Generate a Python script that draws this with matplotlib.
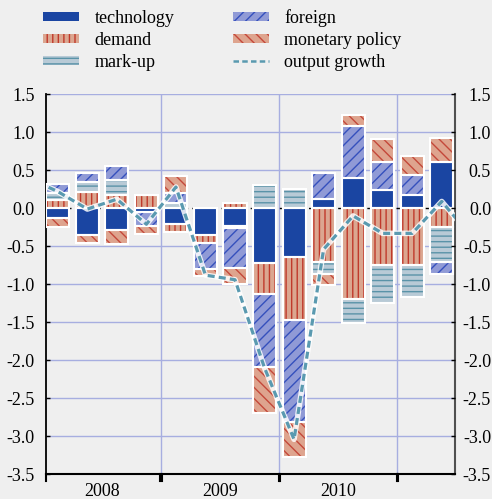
import matplotlib
matplotlib.use("Agg")
import matplotlib.pyplot as plt
import matplotlib.transforms as mtransforms
from matplotlib.patches import Patch
from matplotlib.lines import Line2D
import numpy as np

plt.rcParams['font.family'] = ['Liberation Serif', 'DejaVu Serif']
plt.rcParams['axes.unicode_minus'] = False
plt.rcParams['hatch.linewidth'] = 1.0

# quarters 2008Q1 .. 2011Q2
quarters = np.arange(14)
years = ['2008', '2009', '2010']
year_bounds = [-0.4, 3.5, 7.5, 11.5, 13.45]

technology = [-0.13, -0.35, -0.28, -0.05, -0.21, -0.355, -0.23, -0.72, -0.64, 0.12, 0.40, 0.235, 0.17, 0.61]
demand = [0.11, 0.21, 0.17, 0.18, -0.10, -0.105, 0.07, -0.41, -0.83, -0.70, -1.19, -0.75, -0.74, -0.24]
markup = [0.09, 0.13, 0.20, 0.0, 0.07, 0.0, -0.03, 0.31, 0.26, -0.17, -0.32, -0.49, -0.43, -0.46]
foreign = [0.12, 0.13, 0.19, -0.18, 0.13, -0.34, -0.52, -0.96, -1.34, 0.34, 0.68, 0.38, 0.27, -0.16]
monetary = [-0.12, -0.11, -0.19, -0.11, 0.23, -0.085, -0.22, -0.60, -0.46, -0.14, 0.15, 0.30, 0.25, 0.31]

# output growth, one quarter before and after the bars (clipped by the axes)
growth_x = np.arange(-1, 15)
growth = [0.40, 0.22, -0.01, 0.12, -0.21, 0.28, -0.88, -0.94, -2.1, -3.04, -0.54, -0.10, -0.33, -0.33, 0.09, -0.37]

bg = '#efefef'
grid_col = '#a7aee0'
fs = 13

# name, values, face, hatch colour, hatch
series = [
    ('technology', technology, '#1a45a2', '#1a45a2', None),
    ('demand', demand, '#dba690', '#c0392b', '|||'),
    ('mark-up', markup, '#b8cad6', '#5a93a8', '---'),
    ('foreign', foreign, '#909ad6', '#3550bd', '///'),
    ('monetary policy', monetary, '#dea48e', '#c4483a', '\\\\\\'),
]

fig = plt.figure(figsize=(4.92, 4.99), dpi=100, facecolor=bg)
ax = fig.add_axes([46/492, 1-474.3/499, 409/492, 380/499], facecolor=bg)

ax.set_xlim(-0.4, 13.45)
ax.set_ylim(-3.5, 1.5)

yt = np.arange(-3.5, 1.51, 0.5)
ylabels = ['%.1f' % v for v in yt]
for y in yt:
    if abs(y) > 1e-9:
        ax.axhline(y, color=grid_col, lw=1, zorder=0)
for b in year_bounds[1:-1]:
    ax.axvline(b, color=grid_col, lw=1, zorder=0)
ax.axhline(0, color='black', lw=1, dashes=(4, 3), zorder=1)

width = 0.78
pos_bot = np.zeros(14)
neg_bot = np.zeros(14)
for name, vals, face, hcol, hatch in series:
    vals = np.array(vals)
    bottoms = np.where(vals >= 0, pos_bot, neg_bot)
    ax.bar(quarters, vals, width, bottom=bottoms, color=face, edgecolor=hcol,
           hatch=hatch, linewidth=0, zorder=2)
    ax.bar(quarters, vals, width, bottom=bottoms, fill=False, edgecolor='white',
           linewidth=1.5, zorder=3)
    pos_bot = pos_bot + np.where(vals > 0, vals, 0)
    neg_bot = neg_bot + np.where(vals < 0, vals, 0)

ax.plot(growth_x, growth, color='white', lw=4, alpha=0.85, zorder=4)
ax.plot(growth_x, growth, color='#5a9ab0', lw=2.3, dashes=(2.2, 1.3), zorder=5)

# spines and ticks
for a in ['top', 'bottom']:
    ax.spines[a].set_visible(False)
ax.spines['left'].set_color('black')
ax.spines['left'].set_linewidth(1.3)
ax.spines['right'].set_color('#505050')
ax.spines['right'].set_linewidth(1.5)
ax.set_yticks(yt)
ax.set_yticklabels(ylabels)
ax.tick_params(axis='y', direction='in', length=3, width=1, labelsize=fs,
               left=True, right=False, pad=8)
ax.set_xticks([])

# right-hand labels, right aligned near the figure edge
ax2 = ax.twinx()
ax2.set_ylim(ax.get_ylim())
ax2.set_yticks(yt)
ax2.set_yticklabels(ylabels, ha='right')
ax2.tick_params(axis='y', direction='in', length=3, width=1, labelsize=fs, pad=26)
for s in ax2.spines.values():
    s.set_visible(False)

# year brackets along the bottom
trans = mtransforms.blended_transform_factory(ax.transData, ax.transAxes)
for i in range(len(year_bounds) - 1):
    x0 = year_bounds[i] + (0.025 if i > 0 else 0)
    x1 = year_bounds[i + 1] - (0.025 if i < len(year_bounds) - 2 else 0)
    ax.plot([x0, x1], [0, 0], color='black', lw=1.5, transform=trans, clip_on=False, zorder=6)
    ax.plot([x0, x0], [0, -0.018], color='black', lw=1.5, transform=trans, clip_on=False, zorder=6)
    if i < len(year_bounds) - 2:
        ax.plot([x1, x1], [0, -0.018], color='black', lw=1.5, transform=trans, clip_on=False, zorder=6)
for i, yr in enumerate(years):
    xc = (year_bounds[i] + year_bounds[i + 1]) / 2 if i > 0 else 1.5
    ax.text(xc, -0.045, yr, transform=trans, ha='center', va='center', fontsize=fs)

handles = []
for name, vals, face, hcol, hatch in series:
    handles.append(Patch(facecolor=face, edgecolor=hcol, hatch=hatch, linewidth=0, label=name))
handles.append(Line2D([0], [0], color='#5a9ab0', lw=1.8, dashes=(2.2, 1.3), label='output growth'))
fig.legend(handles=handles, loc='upper left', bbox_to_anchor=(43/492, 1 - 9/499), ncol=2,
           frameon=False, fontsize=fs, handlelength=2.0, handleheight=0.4,
           handletextpad=0.85, columnspacing=3.25, labelspacing=0.27,
           borderpad=0, borderaxespad=0)

fig.savefig('out.png', dpi=100, facecolor=bg)
